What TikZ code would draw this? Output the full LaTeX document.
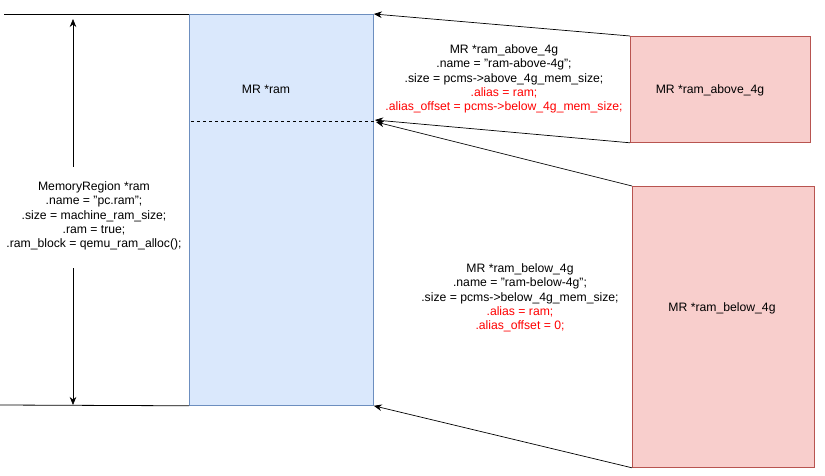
\documentclass[tikz,border=0pt]{standalone}
\usepackage{fontspec}
\setmainfont{Liberation Sans}
\usetikzlibrary{arrows.meta}
\definecolor{bluefill}{HTML}{DAE8FC}
\definecolor{bluedraw}{HTML}{6C8EBF}
\definecolor{redfill}{HTML}{F8CECC}
\definecolor{reddraw}{HTML}{B85450}
\definecolor{redtext}{HTML}{FF0000}
\tikzset{
  box/.style={draw, line width=0.8pt, minimum width=#1, inner sep=0pt, anchor=north west},
  bluebox/.style={box=184pt, fill=bluefill, draw=bluedraw},
  redbox/.style={box=180pt, fill=redfill, draw=reddraw},
  lbl/.style={align=center, font=\fontsize{12.2}{14.3}\selectfont, inner sep=0pt},
  arr/.style={-{Stealth[length=8pt,width=6.5pt]}, line width=0.7pt}
}
\begin{document}
\begin{tikzpicture}[x=1pt,y=-1pt]
\useasboundingbox (0,0) rectangle (825,476);
% main ram block
\node[bluebox, minimum height=391pt] (ram) at (189,14) {};
\node[lbl] (ramlbl) at (266,89) {MR *ram};
\coordinate (dl) at (191,121);
\coordinate (dr) at (374,121);
\draw[dashed, line width=0.6pt] (dl) -- (dr);
% horizontal rules
\coordinate (tl) at (4,14);
\coordinate (bl) at (0,405);
\draw[line width=0.8pt] (tl) -- (ram.north west);
\draw[line width=0.8pt] (bl) -- (ram.south west);
% left vertical arrows and label
\node[lbl] (mr) at (94,216) {MemoryRegion *ram\\.name = "pc.ram";\\.size = machine\_ram\_size;\\.ram = true;\\.ram\_block = qemu\_ram\_alloc();};
\coordinate (vt0) at (73,167);
\coordinate (vt1) at (73,19);
\coordinate (vb0) at (73,268);
\coordinate (vb1) at (73,405);
\draw[arr] (vt0) -- (vt1);
\draw[arr] (vb0) -- (vb1);
% ram above 4g
\node[redbox, minimum height=106pt] (above) at (630,36) {};
\node[lbl] (abovelbl) at (710,90) {MR *ram\_above\_4g};
\node[lbl] (abovetxt) at (504,79) {MR *ram\_above\_4g\\.name = "ram-above-4g";\\.size = pcms->above\_4g\_mem\_size;\\\textcolor{redtext}{.alias = ram;}\\\textcolor{redtext}{.alias\_offset = pcms->below\_4g\_mem\_size;}};
% ram below 4g
\node[redbox, minimum height=281pt, minimum width=182pt] (below) at (632,186) {};
\node[lbl] (belowlbl) at (722,308) {MR *ram\_below\_4g};
\node[lbl] (belowtxt) at (520,298) {MR *ram\_below\_4g\\.name = "ram-below-4g";\\.size = pcms->below\_4g\_mem\_size;\\\textcolor{redtext}{.alias = ram;}\\\textcolor{redtext}{.alias\_offset = 0;}};
% connectors
\coordinate (a2) at (375,120);
\coordinate (a3) at (376,122);
\draw[arr] (above.north west) -- (ram.north east);
\draw[arr] (above.south west) -- (a2);
\draw[arr] (below.north west) -- (a3);
\draw[arr] (below.south west) -- (ram.south east);
\end{tikzpicture}
\end{document}
